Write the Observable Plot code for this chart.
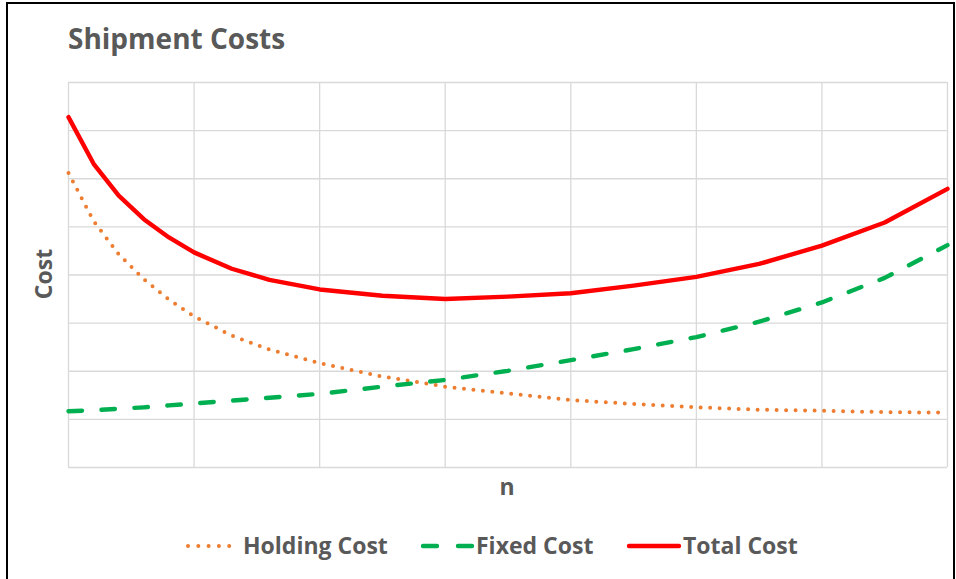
<!DOCTYPE html>
<html>
<head>
<meta charset="utf-8">
<script src="https://cdn.jsdelivr.net/npm/d3@7"></script>
<script src="https://cdn.jsdelivr.net/npm/@observablehq/plot@0.6"></script>
<style>
  html, body { margin: 0; padding: 0; background: #fff; }
  #chart { position: relative; width: 956px; height: 579px; overflow: hidden; }
  text { font-family: "Open Sans", sans-serif; }
</style>
</head>
<body>
<div id="chart"></div>
<script>
// ---- data ----
const n = [0, 0.2, 0.4, 0.6, 0.8, 1.0, 1.3, 1.6, 2.0, 2.5, 3.0, 3.5, 4.0, 4.5, 5.0, 5.5, 6.0, 6.5, 7.0];
const holdingCost = [6.12, 5.12, 4.43, 3.91, 3.49, 3.14, 2.74, 2.45, 2.17, 1.89, 1.68, 1.54, 1.40, 1.32, 1.25, 1.20, 1.18, 1.15, 1.14];
const fixedCost   = [1.17, 1.19, 1.22, 1.25, 1.29, 1.33, 1.39, 1.45, 1.53, 1.68, 1.82, 2.01, 2.23, 2.46, 2.71, 3.03, 3.43, 3.94, 4.62];
const totalCost   = [7.28, 6.31, 5.65, 5.16, 4.78, 4.47, 4.13, 3.90, 3.70, 3.57, 3.50, 3.55, 3.62, 3.78, 3.96, 4.23, 4.61, 5.09, 5.79];
const seriesNames = ["Holding Cost", "Fixed Cost", "Total Cost"];
const xGrid = [0, 1, 2, 3, 4, 5, 6, 7];
const yGrid = [0, 1, 2, 3, 4, 5, 6, 7, 8];
const title = "Shipment Costs";
const xLabel = "n";
const yLabel = "Cost";

const rows = (vals) => n.map((x, i) => ({ x, y: vals[i] }));
const holding = rows(holdingCost);
const fixed = rows(fixedCost);
const total = rows(totalCost);

const styles = [
  { stroke: "#ED7D31", strokeWidth: 4, strokeDasharray: "0,9.5", strokeLinecap: "round" },
  { stroke: "#00B050", strokeWidth: 4.4, strokeDasharray: "13.5,19.5", strokeLinecap: "round" },
  { stroke: "#FF0000", strokeWidth: 4.4, strokeLinecap: "round", strokeLinejoin: "round" }
];

const plot = Plot.plot({
  width: 956,
  height: 579,
  marginLeft: 68,
  marginRight: 9,
  marginTop: 82,
  marginBottom: 112,
  style: { background: "#fff", overflow: "visible" },
  x: { domain: [0, 7], axis: null },
  y: { domain: [0, 8], axis: null },
  marks: [
    Plot.gridX(xGrid, { stroke: "#d9d9d9", strokeOpacity: 1, strokeWidth: 1.3 }),
    Plot.gridY(yGrid, { stroke: "#d9d9d9", strokeOpacity: 1, strokeWidth: 1.3 }),
    Plot.line(holding, { x: "x", y: "y", ...styles[0] }),
    Plot.line(fixed, { x: "x", y: "y", ...styles[1] }),
    Plot.line(total, { x: "x", y: "y", ...styles[2] })
  ]
});

document.getElementById("chart").appendChild(plot);
const svg = d3.select(plot);
const grey = "#595959";

// outer border
svg.append("rect").attr("x", 7).attr("y", 3).attr("width", 947).attr("height", 600)
  .attr("fill", "none").attr("stroke", "#000").attr("stroke-width", 2);

// title
svg.append("text").attr("x", 68).attr("y", 49).attr("text-anchor", "start").text(title)
  .attr("fill", grey).style("font-size", "28px").style("font-weight", 700);

// axis titles
svg.append("text").attr("transform", "translate(52,274) rotate(-90)")
  .attr("text-anchor", "middle").text(yLabel)
  .attr("fill", grey).style("font-size", "23px").style("font-weight", 700);
svg.append("text").attr("x", 507).attr("y", 495).attr("text-anchor", "middle").text(xLabel)
  .attr("fill", grey).style("font-size", "23px").style("font-weight", 700);

// legend
const legend = [
  { x1: 188, x2: 230, tx: 243 },
  { x1: 423, x2: 472, tx: 476 },
  { x1: 629, x2: 679, tx: 683 }
];
const ly = 546;
legend.forEach((d, i) => {
  const s = styles[i];
  const ln = svg.append("line").attr("x1", d.x1).attr("x2", d.x2).attr("y1", ly).attr("y2", ly)
    .attr("stroke", s.stroke).attr("stroke-width", s.strokeWidth)
    .attr("stroke-linecap", "round");
  if (i === 0) ln.attr("stroke-dasharray", "0,10.3");
  if (i === 1) ln.attr("stroke-dasharray", "14,21");
  svg.append("text").attr("x", d.tx).attr("y", ly).attr("dy", "0.36em")
    .attr("text-anchor", "start").text(seriesNames[i])
    .attr("fill", grey).style("font-size", "23px").style("font-weight", 700);
});
</script>
</body>
</html>
